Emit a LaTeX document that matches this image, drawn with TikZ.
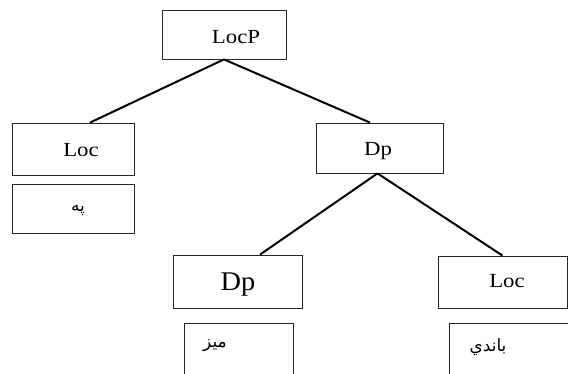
\documentclass[tikz,border=0pt]{standalone}
\usepackage{fontspec}
\setmainfont{Liberation Serif}
\newfontfamily\arabicfont[Script=Arabic]{DejaVu Sans}
\TeXXeTstate=1
\begin{document}
\begin{tikzpicture}[x=1pt,y=-1pt,
  box/.style={draw=black!85,line width=0.8pt,inner sep=0pt,rectangle},
  lbl/.style={inner sep=0pt,font=\fontsize{20}{22}\selectfont,xscale=1.14},
  biglbl/.style={inner sep=0pt,font=\fontsize{27}{30}\selectfont,xscale=1.05},
  arlbl/.style={inner sep=0pt,font=\arabicfont\fontsize{17}{20}\selectfont},
  conn/.style={line width=2pt,black}]
\useasboundingbox (0,0) rectangle (568,374);
\clip (0,0) rectangle (568,374);
% boxes
\node[box,minimum width=124pt,minimum height=49pt] (locp) at (224,34.5) {};
\node[box,minimum width=122pt,minimum height=52pt] (loc) at (73,149) {};
\node[box,minimum width=122pt,minimum height=49pt] (pe) at (73,208.5) {};
\node[box,minimum width=127pt,minimum height=50pt] (dp) at (379.5,148) {};
\node[box,minimum width=129pt,minimum height=53pt] (dpb) at (237.5,281.5) {};
\node[box,minimum width=109pt,minimum height=57pt] (miz) at (238.5,351.5) {};
\node[box,minimum width=129pt,minimum height=52pt] (locb) at (502.5,282) {};
\node[box,minimum width=131pt,minimum height=57pt] (bandi) at (514.5,351.5) {};
% labels
\node[lbl] (tlocp) at (236,37) {LocP};
\node[lbl] (tloc) at (81,150) {Loc};
\node[arlbl] (tpe) at (78,210) {\beginR په\endR};
\node[lbl] (tdp) at (378,151) {Dp};
\node[biglbl] (tdpb) at (238,285) {Dp};
\node[arlbl] (tmiz) at (215,346) {\beginR میز\endR};
\node[lbl] (tlocb) at (507,281) {Loc};
\node[arlbl] (tbandi) at (488,347) {\beginR باندي\endR};
% connectors
\draw[conn] (locp.south) -- ([xshift=17pt]loc.north);
\draw[conn] (locp.south) -- ([xshift=-9.5pt]dp.north);
\draw[conn] ([xshift=-2pt]dp.south) -- ([xshift=22.5pt]dpb.north);
\draw[conn] ([xshift=-2pt]dp.south) -- (locb.north);
\end{tikzpicture}
\end{document}
